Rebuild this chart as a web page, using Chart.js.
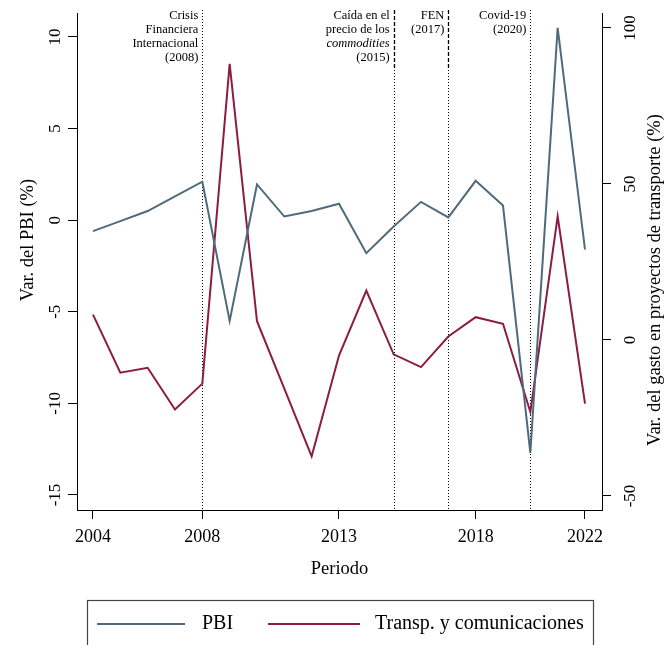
<!DOCTYPE html>
<html>
<head>
<meta charset="utf-8">
<script src="https://cdn.jsdelivr.net/npm/chart.js@4.4.1/dist/chart.umd.min.js"></script>
<style>
  html, body { margin: 0; padding: 0; background: #ffffff; }
  #wrap { width: 666px; height: 645px; position: relative; }
</style>
</head>
<body>
<div id="wrap"><canvas id="c" width="666" height="645"></canvas></div>
<script>
// Annual series, 2004-2022
const years = [2004, 2005, 2006, 2007, 2008, 2009, 2010, 2011, 2012, 2013,
               2014, 2015, 2016, 2017, 2018, 2019, 2020, 2021, 2022];
// Var. del PBI (%) — left axis
const pbi = [-0.6, -0.05, 0.5, 1.3, 2.1, -5.5, 1.95, 0.2, 0.5, 0.9,
             -1.8, -0.35, 1.0, 0.15, 2.15, 0.8, -12.7, 10.5, -1.6];
// Var. del gasto en transporte y comunicaciones (%) — right axis
const transp = [8.1, -10.5, -8.9, -22.3, -14.0, 88.5, 6.0, -15.6, -37.3, -5.0,
                15.8, -4.6, -8.7, 1.1, 7.3, 5.2, -23.1, 39.6, -20.4];

// Axis ticks
const xTicks = [2004, 2008, 2013, 2018, 2022];
const leftTicks = [-15, -10, -5, 0, 5, 10];
const rightTicks = [-50, 0, 50, 100];

// Reference events marked with vertical lines
const eventYears = [2008, 2015, 2017, 2020];
const eventLabels = [
  ['Crisis', 'Financiera', 'Internacional', '(2008)'],
  ['Caída en el', 'precio de los', 'commodities', '(2015)'],
  ['FEN', '(2017)'],
  ['Covid-19', '(2020)']
];
const italicLines = ['commodities'];
const dashedTopYears = [2015, 2017];

const seriesNames = ['PBI', 'Transp. y comunicaciones'];
const seriesColors = ['#4f6b7b', '#8c1c43'];

const SERIF = '"Liberation Serif", "DejaVu Serif", "Times New Roman", serif';

const fixedTicks = (list) => (scale) => { scale.ticks = list.map(v => ({ value: v })); };

const decorations = {
  id: 'decorations',
  beforeDatasetsDraw(chart) {
    const ctx = chart.ctx;
    const x = chart.scales.x;
    const bottom = chart.chartArea.bottom;
    ctx.save();
    ctx.strokeStyle = '#000';
    eventYears.forEach((yr) => {
      const px = Math.round(x.getPixelForValue(yr)) + 0.5;
      const dashedTop = dashedTopYears.includes(yr);
      if (dashedTop) {
        ctx.lineWidth = 1.3;
        ctx.setLineDash([4, 2]);
        ctx.beginPath(); ctx.moveTo(px, 10); ctx.lineTo(px, 70); ctx.stroke();
      }
      ctx.lineWidth = 1;
      ctx.setLineDash([1, 2]);
      ctx.beginPath(); ctx.moveTo(px, dashedTop ? 70 : 10); ctx.lineTo(px, bottom); ctx.stroke();
    });
    ctx.restore();
  },
  afterDraw(chart) {
    const ctx = chart.ctx;
    const { x, y, y2 } = chart.scales;
    ctx.save();
    ctx.fillStyle = '#000';

    // event annotations
    ctx.textAlign = 'right';
    ctx.textBaseline = 'middle';
    eventYears.forEach((yr, i) => {
      const px = x.getPixelForValue(yr) - 4;
      eventLabels[i].forEach((line, j) => {
        ctx.font = (italicLines.includes(line) ? 'italic ' : '') + '12.5px ' + SERIF;
        ctx.fillText(line, px, 16 + j * 14);
      });
    });

    // x tick labels
    ctx.font = '18px ' + SERIF;
    ctx.textAlign = 'center';
    x.ticks.forEach(t => ctx.fillText(String(t.value), x.getPixelForValue(t.value), 537));
    ctx.font = '18.5px ' + SERIF;
    ctx.fillText('Periodo', (x.left + x.right) / 2, 569);

    // rotated y tick labels
    const rotText = (txt, cx, cy, font) => {
      ctx.save();
      ctx.translate(cx, cy);
      ctx.rotate(-Math.PI / 2);
      ctx.font = font;
      ctx.textAlign = 'center';
      ctx.textBaseline = 'middle';
      ctx.fillText(txt, 0, 0);
      ctx.restore();
    };
    y.ticks.forEach(t => rotText(String(t.value), 56, y.getPixelForValue(t.value), '17px ' + SERIF));
    y2.ticks.forEach(t => rotText(String(t.value), 631, y2.getPixelForValue(t.value), '17px ' + SERIF));
    rotText('Var. del PBI (%)', 28, 240, '18.5px ' + SERIF);
    rotText('Var. del gasto en proyectos de transporte (%)', 655, 280, '18.5px ' + SERIF);

    // legend box
    ctx.strokeStyle = '#444';
    ctx.lineWidth = 1.2;
    ctx.strokeRect(87.5, 600.5, 506, 70);
    const ly = 624;
    const legendItems = [
      { x1: 97, x2: 185, tx: 202 },
      { x1: 268, x2: 360, tx: 375 }
    ];
    ctx.font = '20px ' + SERIF;
    ctx.textAlign = 'left';
    ctx.textBaseline = 'middle';
    legendItems.forEach((it, i) => {
      ctx.strokeStyle = seriesColors[i];
      ctx.lineWidth = 2;
      ctx.beginPath(); ctx.moveTo(it.x1, ly); ctx.lineTo(it.x2, ly); ctx.stroke();
      ctx.fillStyle = '#000';
      ctx.fillText(seriesNames[i], it.tx, ly);
    });
    ctx.restore();
  }
};

const axisGrid = { display: true, drawOnChartArea: false, drawTicks: true, tickLength: 9, color: '#000', lineWidth: 1 };
const axisBorder = { display: true, color: '#000', width: 1 };

new Chart(document.getElementById('c'), {
  type: 'line',
  data: {
    datasets: [
      {
        label: seriesNames[0],
        data: years.map((yr, i) => ({ x: yr, y: pbi[i] })),
        borderColor: seriesColors[0],
        backgroundColor: seriesColors[0],
        borderWidth: 2,
        pointRadius: 0,
        tension: 0,
        yAxisID: 'y'
      },
      {
        label: seriesNames[1],
        data: years.map((yr, i) => ({ x: yr, y: transp[i] })),
        borderColor: seriesColors[1],
        backgroundColor: seriesColors[1],
        borderWidth: 2,
        pointRadius: 0,
        tension: 0,
        yAxisID: 'y2'
      }
    ]
  },
  options: {
    responsive: false,
    animation: false,
    devicePixelRatio: 1,
    layout: { padding: { top: 13, left: 0, right: 0, bottom: 0 } },
    plugins: { legend: { display: false }, tooltip: { enabled: false } },
    scales: {
      x: {
        type: 'linear', position: 'bottom', min: 2003.415, max: 2022.622,
        afterBuildTicks: fixedTicks(xTicks),
        afterFit: (s) => { s.height = 135; },
        ticks: { display: false },
        grid: axisGrid, border: axisBorder
      },
      y: {
        type: 'linear', position: 'left', min: -15.82, max: 11.31,
        afterBuildTicks: fixedTicks(leftTicks),
        afterFit: (s) => { s.width = 77; },
        ticks: { display: false },
        grid: axisGrid, border: axisBorder
      },
      y2: {
        type: 'linear', position: 'right', min: -54.5, max: 104.8,
        afterBuildTicks: fixedTicks(rightTicks),
        afterFit: (s) => { s.width = 64; },
        ticks: { display: false },
        grid: axisGrid, border: axisBorder
      }
    }
  },
  plugins: [decorations]
});
</script>
</body>
</html>
